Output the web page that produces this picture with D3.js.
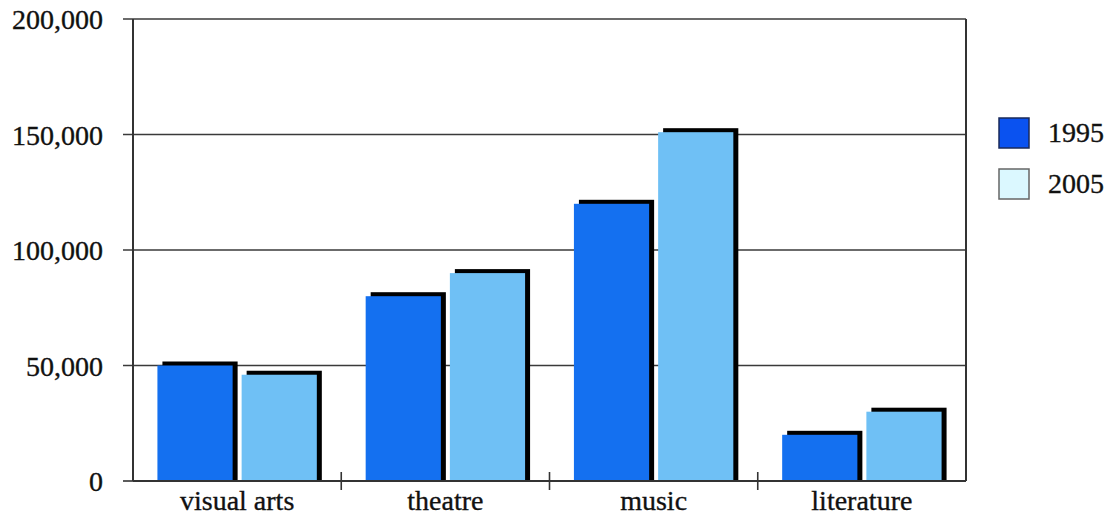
<!DOCTYPE html>
<html>
<head>
<meta charset="utf-8">
<script src="https://cdn.jsdelivr.net/npm/d3@7"></script>
<style>
  html, body { margin: 0; padding: 0; background: #fff; }
  svg { display: block; }
  text { font-family: "Liberation Serif", "Times New Roman", serif; fill: #111; stroke: #111; stroke-width: 0.35px; }
</style>
</head>
<body>
<svg id="chart" width="1111" height="519"></svg>
<script>
// Attendance by art form, 1995 vs 2005
const categories = ["visual arts", "theatre", "music", "literature"];
const years = ["1995", "2005"];
const values1995 = [50000, 80000, 120000, 20000];
const values2005 = [46000, 90000, 151000, 30000];
const yTicks = [0, 50000, 100000, 150000, 200000];

const seriesValues = { "1995": values1995, "2005": values2005 };
const faceColor = { "1995": "#1470f0", "2005": "#6fc0f5" };
const swatchColor = { "1995": "#0a52f0", "2005": "#dbf8ff" };
const swatchStroke = { "1995": "#1a2a5a", "2005": "#666" };

const svg = d3.select("#chart");
const plot = { left: 133, right: 966, top: 19, bottom: 481 };

const x0 = d3.scaleBand().domain(categories).range([plot.left, plot.right]).padding(0);
const x1 = d3.scaleBand().domain(years).range([0, x0.bandwidth()])
  .paddingInner(0.107).paddingOuter(0.29);
const y = d3.scaleLinear().domain([0, 200000]).range([plot.bottom, plot.top]);

const fmt = d3.format(",");

// horizontal gridlines
svg.append("g").selectAll("line").data(yTicks.filter(d => d > 0)).join("line")
  .attr("x1", plot.left - 10).attr("x2", plot.right)
  .attr("y1", d => y(d)).attr("y2", d => y(d))
  .attr("stroke", "#3a3a3a").attr("stroke-width", 1.6);

// frame: left, right
svg.append("line").attr("x1", plot.left).attr("x2", plot.left)
  .attr("y1", plot.top).attr("y2", plot.bottom)
  .attr("stroke", "#333").attr("stroke-width", 2);
svg.append("line").attr("x1", plot.right).attr("x2", plot.right)
  .attr("y1", plot.top).attr("y2", plot.bottom)
  .attr("stroke", "#333").attr("stroke-width", 2);

// y tick mark at zero
svg.append("line").attr("x1", plot.left - 10).attr("x2", plot.left)
  .attr("y1", y(0)).attr("y2", y(0)).attr("stroke", "#333").attr("stroke-width", 1.6);

// y labels
svg.append("g").selectAll("text").data(yTicks).join("text")
  .attr("x", 103).attr("y", d => y(d) + 10)
  .attr("text-anchor", "end")
  .attr("font-size", 28)
  .text(d => fmt(d));

// bars with a black drop edge on top and right
const groups = svg.append("g").selectAll("g").data(categories).join("g")
  .attr("transform", d => `translate(${x0(d)},0)`);

years.forEach(yr => {
  groups.append("rect")
    .attr("x", x1(yr) + 5)
    .attr("y", (d, i) => y(seriesValues[yr][i]) - 4)
    .attr("width", x1.bandwidth())
    .attr("height", (d, i) => plot.bottom - y(seriesValues[yr][i]) + 4)
    .attr("fill", "#000");
  groups.append("rect")
    .attr("x", x1(yr))
    .attr("y", (d, i) => y(seriesValues[yr][i]))
    .attr("width", x1.bandwidth())
    .attr("height", (d, i) => plot.bottom - y(seriesValues[yr][i]))
    .attr("fill", faceColor[yr]);
});

// bottom axis line
svg.append("line").attr("x1", plot.left).attr("x2", plot.right)
  .attr("y1", plot.bottom).attr("y2", plot.bottom)
  .attr("stroke", "#333").attr("stroke-width", 2);

// category separator ticks
svg.append("g").selectAll("line").data(categories.slice(1)).join("line")
  .attr("x1", d => x0(d)).attr("x2", d => x0(d))
  .attr("y1", plot.bottom - 9).attr("y2", plot.bottom + 9)
  .attr("stroke", "#333").attr("stroke-width", 1.6);

// category labels
svg.append("g").selectAll("text").data(categories).join("text")
  .attr("x", d => x0(d) + x0.bandwidth() / 2)
  .attr("y", 510)
  .attr("text-anchor", "middle")
  .attr("font-size", 28)
  .text(d => d);

// legend
const legend = svg.append("g").selectAll("g").data(years).join("g")
  .attr("transform", (d, i) => `translate(999,${118 + i * 51})`);
legend.append("rect")
  .attr("width", 30).attr("height", 30)
  .attr("fill", d => swatchColor[d])
  .attr("stroke", d => swatchStroke[d]).attr("stroke-width", 1.5);
legend.append("text")
  .attr("x", 49).attr("y", 24)
  .attr("font-size", 28)
  .text(d => d);
</script>
</body>
</html>
